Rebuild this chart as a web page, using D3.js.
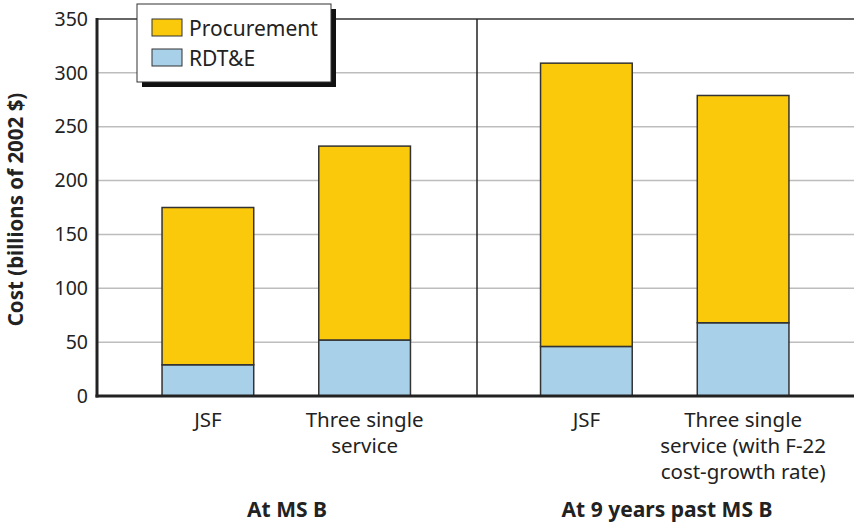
<!DOCTYPE html>
<html>
<head>
<meta charset="utf-8">
<script src="https://cdn.jsdelivr.net/npm/d3@7"></script>
<style>
  body { margin: 0; background: #fff; }
  svg { display: block; font-family: "Noto Sans", "Open Sans", sans-serif; }
</style>
</head>
<body>
<svg id="chart" width="854" height="522"></svg>
<script>
// Data
const groups = ["At MS B", "At 9 years past MS B"];
const categories = [
    { group: "At MS B", key: "a", lines: ["JSF"] },
    { group: "At MS B", key: "b", lines: ["Three single", "service"] },
    { group: "At 9 years past MS B", key: "a", lines: ["JSF"] },
    { group: "At 9 years past MS B", key: "b", lines: ["Three single", "service (with F-22", "cost-growth rate)"] }
];
const rdte = [29, 52, 46, 68];
const procurement = [146, 180, 263, 211];
const yTicks = [0, 50, 100, 150, 200, 250, 300, 350];
const seriesNames = ["Procurement", "RDT&E"];

const gold = "#fbc90b";
const blue = "#a8d0e8";

var svg = d3.select("#chart");

const marginTop = 19;
const marginLeft = 97;
const plotRight = 854;
const plotBottom = 396;

var y = d3.scaleLinear()
    .domain([0, 350])
    .range([plotBottom, marginTop]);

var xGroup = d3.scaleBand()
    .domain(groups)
    .range([marginLeft, plotRight])
    .padding(0);

var xInner = d3.scaleBand()
    .domain(["a", "b"])
    .range([0, xGroup.bandwidth()])
    .padding(0.415);

function barX(d) { return xGroup(d.group) + xInner(d.key); }

// gridlines
svg.append("g")
    .selectAll("line")
    .data(yTicks.filter(t => t > 0))
    .enter()
    .append("line")
    .attr("x1", marginLeft)
    .attr("x2", plotRight)
    .attr("y1", d => y(d))
    .attr("y2", d => y(d))
    .attr("stroke", d => d === 350 ? "#666" : "#bdbdbd")
    .attr("stroke-width", d => d === 350 ? 2 : 1.5);

// divider between the two groups
svg.append("line")
    .attr("x1", xGroup(groups[1]) + 1.5)
    .attr("x2", xGroup(groups[1]) + 1.5)
    .attr("y1", y(350))
    .attr("y2", plotBottom)
    .attr("stroke", "#222")
    .attr("stroke-width", 1.5);

// stacked bars
var stack = categories.map((c, i) => ({ c: c, rdte: rdte[i], proc: procurement[i] }));

var bars = svg.append("g");
bars.selectAll("rect.rdte")
    .data(stack)
    .enter()
    .append("rect")
    .attr("class", "rdte")
    .attr("x", d => barX(d.c))
    .attr("width", xInner.bandwidth())
    .attr("y", d => y(d.rdte))
    .attr("height", d => y(0) - y(d.rdte))
    .attr("fill", blue)
    .attr("stroke", "#333")
    .attr("stroke-width", 1.5);

bars.selectAll("rect.proc")
    .data(stack)
    .enter()
    .append("rect")
    .attr("class", "proc")
    .attr("x", d => barX(d.c))
    .attr("width", xInner.bandwidth())
    .attr("y", d => y(d.rdte + d.proc))
    .attr("height", d => y(d.rdte) - y(d.rdte + d.proc))
    .attr("fill", gold)
    .attr("stroke", "#333")
    .attr("stroke-width", 1.5);

// y axis
var yAxis = svg.append("g")
    .attr("transform", `translate(${marginLeft},0)`)
    .call(d3.axisLeft(y).tickValues(yTicks).tickSize(0).tickPadding(9));
yAxis.select(".domain").remove();
yAxis.selectAll("text")
    .attr("font-size", "19.5px")
    .attr("font-family", "Noto Sans, sans-serif")
    .attr("fill", "#222");

svg.append("line")
    .attr("x1", marginLeft)
    .attr("x2", marginLeft)
    .attr("y1", y(350) - 1)
    .attr("y2", plotBottom + 1.5)
    .attr("stroke", "#222")
    .attr("stroke-width", 3);

svg.append("line")
    .attr("x1", marginLeft - 1.5)
    .attr("x2", plotRight)
    .attr("y1", plotBottom)
    .attr("y2", plotBottom)
    .attr("stroke", "#222")
    .attr("stroke-width", 3);

// axis title
svg.append("text")
    .attr("transform", `translate(23,${(marginTop + plotBottom) / 2 + 2}) rotate(-90)`)
    .attr("text-anchor", "middle")
    .attr("font-size", "20.5px")
    .attr("font-weight", "bold")
    .attr("fill", "#222")
    .text("Cost (billions of 2002 $)");

// category labels
var catLabels = svg.append("g")
    .selectAll("text")
    .data(categories)
    .enter()
    .append("text")
    .attr("text-anchor", "middle")
    .attr("font-size", "20.5px")
    .attr("fill", "#222")
    .attr("x", d => barX(d) + xInner.bandwidth() / 2)
    .attr("y", 427);

catLabels.selectAll("tspan")
    .data(d => d.lines.map(l => ({ l: l, x: barX(d) + xInner.bandwidth() / 2 })))
    .enter()
    .append("tspan")
    .attr("x", d => d.x)
    .attr("dy", (d, i) => i === 0 ? 0 : 26)
    .text(d => d.l);

// group labels
svg.append("g")
    .selectAll("text")
    .data(groups)
    .enter()
    .append("text")
    .attr("text-anchor", "middle")
    .attr("font-size", "21px")
    .attr("font-weight", "bold")
    .attr("fill", "#222")
    .attr("x", (d, i) => i === 0 ? 287 : 667)
    .attr("y", 517)
    .text(d => d);

// legend
var legend = svg.append("g").attr("transform", "translate(137,4)");
legend.append("rect")
    .attr("x", 5).attr("y", 5)
    .attr("width", 194).attr("height", 78)
    .attr("fill", "#111");
legend.append("rect")
    .attr("x", 0).attr("y", 0)
    .attr("width", 194).attr("height", 78)
    .attr("fill", "#fff")
    .attr("stroke", "#333")
    .attr("stroke-width", 1);

var items = legend.selectAll("g.item")
    .data(seriesNames)
    .enter()
    .append("g")
    .attr("class", "item")
    .attr("transform", (d, i) => `translate(15,${15 + i * 30})`);
items.append("rect")
    .attr("width", 30).attr("height", 17)
    .attr("fill", (d, i) => i === 0 ? gold : blue)
    .attr("stroke", "#333")
    .attr("stroke-width", 1);
items.append("text")
    .attr("x", 37)
    .attr("y", 17)
    .attr("font-size", "21px")
    .attr("fill", "#222")
    .text(d => d);
</script>
</body>
</html>
